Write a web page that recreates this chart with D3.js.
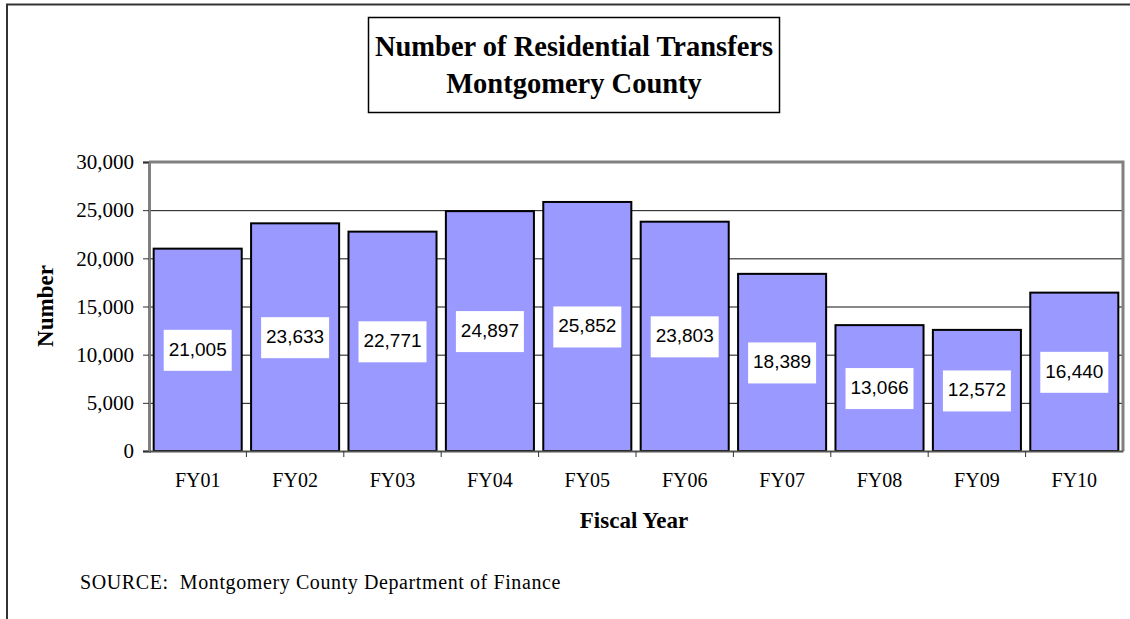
<!DOCTYPE html>
<html>
<head>
<meta charset="utf-8">
<script src="https://cdn.jsdelivr.net/npm/d3@7"></script>
<style>
  body { margin: 0; background: #fff; }
  svg { display: block; }
</style>
</head>
<body>
<div id="chart"></div>
<script>
// data
var years = ['FY01', 'FY02', 'FY03', 'FY04', 'FY05', 'FY06', 'FY07', 'FY08', 'FY09', 'FY10'];
var transfers = [21005, 23633, 22771, 24897, 25852, 23803, 18389, 13066, 12572, 16440];
var yTicks = [0, 5000, 10000, 15000, 20000, 25000, 30000];
var titleLines = ['Number of Residential Transfers', 'Montgomery County'];

var W = 1130, H = 619;
var plotLeft = 149, plotRight = 1123, plotTop = 162, plotBottom = 451;
var serif = '"Liberation Serif", "Times New Roman", serif';

var svg = d3.select('#chart').append('svg')
  .attr('width', W)
  .attr('height', H);

// outer frame (top + left only)
svg.append('path')
  .attr('d', 'M7,619 L7,4.5 L1130,4.5')
  .attr('fill', 'none')
  .attr('stroke', '#333')
  .attr('stroke-width', 2);

// title box
svg.append('rect')
  .attr('x', 368.5).attr('y', 17.5)
  .attr('width', 411).attr('height', 95)
  .attr('fill', '#fff')
  .attr('stroke', '#000')
  .attr('stroke-width', 1.5);

svg.selectAll('.title')
  .data(titleLines)
  .enter()
  .append('text')
  .attr('class', 'title')
  .attr('x', 574)
  .attr('y', (d, i) => 56 + i * 37)
  .attr('text-anchor', 'middle')
  .style('font-family', serif)
  .style('font-weight', 'bold')
  .style('font-size', '28.5px')
  .text(d => d);

// scales
var x = d3.scaleBand()
  .domain(years)
  .range([plotLeft, plotRight])
  .paddingInner(0.096)
  .paddingOuter(0.048);

var y = d3.scaleLinear()
  .domain([0, 30000])
  .range([plotBottom, plotTop]);

// gridlines
svg.append('g')
  .selectAll('line')
  .data(yTicks.slice(1, -1))
  .enter()
  .append('line')
  .attr('x1', plotLeft).attr('x2', plotRight)
  .attr('y1', d => y(d) + 0.5).attr('y2', d => y(d) + 0.5)
  .attr('stroke', '#111')
  .attr('stroke-width', 1);

// plot frame top/right
svg.append('path')
  .attr('d', 'M' + plotLeft + ',' + plotTop + ' L' + plotRight + ',' + plotTop + ' L' + plotRight + ',' + plotBottom)
  .attr('fill', 'none')
  .attr('stroke', '#808080')
  .attr('stroke-width', 3);

// bars
svg.selectAll('.bar')
  .data(transfers)
  .enter()
  .append('rect')
  .attr('class', 'bar')
  .attr('x', (d, i) => x(years[i]))
  .attr('y', d => y(d))
  .attr('width', x.bandwidth())
  .attr('height', d => plotBottom - y(d))
  .attr('fill', '#9999ff')
  .attr('stroke', '#000')
  .attr('stroke-width', 2);

// y axis
var yAxis = svg.append('g')
  .attr('transform', 'translate(' + plotLeft + ',0)')
  .call(d3.axisLeft(y).tickValues(yTicks).tickSize(6).tickFormat(d3.format(',')));
yAxis.select('.domain').attr('stroke', '#808080').attr('stroke-width', 3);
yAxis.selectAll('.tick line').attr('stroke', '#333');
yAxis.selectAll('.tick text')
  .attr('x', -15)
  .style('font-family', serif)
  .style('font-size', '21px')
  .attr('fill', '#000');

// x axis, ticks between categories
var xAxis = svg.append('g')
  .attr('transform', 'translate(0,' + plotBottom + ')')
  .call(d3.axisBottom(x).tickSize(0).tickPadding(22));
xAxis.select('.domain').attr('stroke', '#555').attr('stroke-width', 2);
xAxis.selectAll('.tick text')
  .style('font-family', serif)
  .style('font-size', '20px')
  .attr('fill', '#000');

xAxis.selectAll('.sep')
  .data(years.slice(1))
  .enter()
  .append('line')
  .attr('class', 'sep')
  .attr('x1', d => x(d) - x.step() * x.paddingInner() / 2)
  .attr('x2', d => x(d) - x.step() * x.paddingInner() / 2)
  .attr('y1', 0).attr('y2', 6)
  .attr('stroke', '#333');

// value labels
var labels = svg.selectAll('.lbl')
  .data(transfers)
  .enter()
  .append('g')
  .attr('class', 'lbl')
  .attr('transform', (d, i) => 'translate(' + (x(years[i]) + x.bandwidth() / 2) + ',' + ((y(d) + plotBottom) / 2) + ')');

labels.append('rect')
  .attr('x', -34).attr('y', -20)
  .attr('width', 68).attr('height', 41)
  .attr('fill', '#fff');

labels.append('text')
  .attr('text-anchor', 'middle')
  .attr('dy', '0.3em')
  .style('font-family', '"Liberation Sans", Arial, sans-serif')
  .style('font-size', '19px')
  .text(d => d3.format(',')(d));

// axis titles
svg.append('text')
  .attr('transform', 'translate(53,306) rotate(-90)')
  .attr('text-anchor', 'middle')
  .style('font-family', serif)
  .style('font-weight', 'bold')
  .style('font-size', '23px')
  .text('Number');

svg.append('text')
  .attr('x', 634).attr('y', 528)
  .attr('text-anchor', 'middle')
  .style('font-family', serif)
  .style('font-weight', 'bold')
  .style('font-size', '23px')
  .text('Fiscal Year');

svg.append('text')
  .attr('x', 80).attr('y', 589)
  .style('font-family', serif)
  .style('font-size', '20px')
  .style('letter-spacing', '0.6px')
  .style('white-space', 'pre')
  .text('SOURCE:  Montgomery County Department of Finance');
</script>
</body>
</html>
